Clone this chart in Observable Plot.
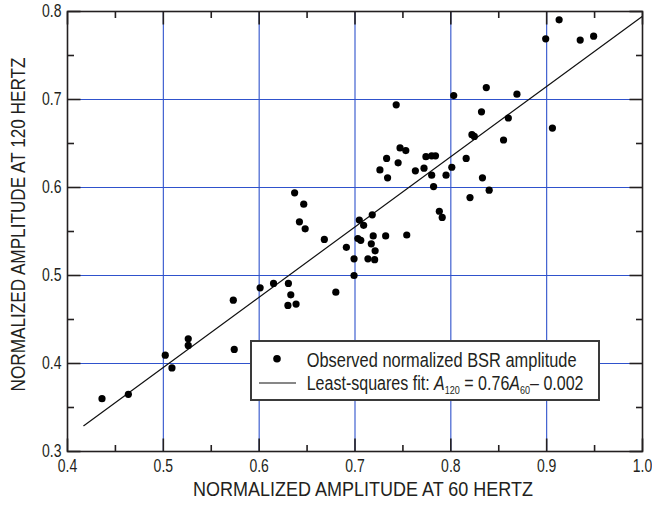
<!DOCTYPE html>
<html>
<head>
<meta charset="utf-8">
<script src="https://cdn.jsdelivr.net/npm/d3@7"></script>
<script src="https://cdn.jsdelivr.net/npm/@observablehq/plot@0.6"></script>
<style>
  html, body { margin: 0; padding: 0; background: #fff; }
  #wrap { position: relative; width: 652px; height: 509px; font-family: "Liberation Sans", Arial, sans-serif; }
  #legendSvg { position: absolute; left: 0; top: 0; pointer-events: none; }
</style>
</head>
<body>
<div id="wrap"></div>
<script>
// Observed normalized BSR amplitudes (60 Hz vs 120 Hz)
const amp60 = [0.436, 0.4635, 0.502, 0.509, 0.526, 0.526, 0.573, 0.574, 0.601, 0.615,
  0.6305, 0.633, 0.630, 0.6385, 0.680, 0.699, 0.699, 0.7135, 0.691, 0.637,
  0.6465, 0.642, 0.648, 0.668, 0.7045, 0.709, 0.718, 0.703, 0.706, 0.717,
  0.721, 0.719, 0.7205, 0.732, 0.754, 0.726, 0.733, 0.734, 0.745, 0.747,
  0.753, 0.763, 0.772, 0.774, 0.780, 0.784, 0.780, 0.782, 0.795, 0.788,
  0.791, 0.801, 0.803, 0.837, 0.869, 0.832, 0.860, 0.822, 0.8245, 0.855,
  0.906, 0.816, 0.833, 0.840, 0.820, 0.899, 0.913, 0.935, 0.949, 0.743];
const amp120 = [0.360, 0.365, 0.4095, 0.395, 0.428, 0.4205, 0.472, 0.416, 0.486, 0.491,
  0.491, 0.478, 0.466, 0.4675, 0.481, 0.500, 0.519, 0.519, 0.532, 0.594,
  0.581, 0.561, 0.553, 0.541, 0.563, 0.557, 0.569, 0.542, 0.540, 0.536,
  0.528, 0.545, 0.518, 0.545, 0.546, 0.620, 0.633, 0.611, 0.628, 0.645,
  0.642, 0.619, 0.622, 0.635, 0.636, 0.636, 0.614, 0.601, 0.614, 0.573,
  0.566, 0.623, 0.7045, 0.7135, 0.706, 0.686, 0.679, 0.660, 0.658, 0.654,
  0.6675, 0.633, 0.611, 0.597, 0.5885, 0.769, 0.7905, 0.7675, 0.772, 0.694];

// Least-squares line as drawn in the figure
const fitSlope = [0.798];
const fitIntercept = [-0.0034];
const fitRange = [0.417, 1.0];

// Axes
const xDomain = [0.4, 1.0];
const yDomain = [0.3, 0.8];
const xMajor = [0.4, 0.5, 0.6, 0.7, 0.8, 0.9, 1.0];
const xMinor = [0.45, 0.55, 0.65, 0.75, 0.85, 0.95];
const yMajor = [0.3, 0.4, 0.5, 0.6, 0.7, 0.8];
const yMinor = [0.35, 0.45, 0.55, 0.65, 0.75];
const xGrid = [0.5, 0.6, 0.7, 0.8, 0.9];
const yGrid = [0.4, 0.5, 0.6, 0.7];
const xTitle = "NORMALIZED AMPLITUDE AT 60 HERTZ";
const yTitle = "NORMALIZED AMPLITUDE AT 120 HERTZ";
const legendLabels = ["Observed normalized BSR amplitude", "Least-squares fit: "];

const points = amp60.map((x, i) => ({x, y: amp120[i]}));
const fitLine = fitRange.map(x => ({x, y: fitSlope[0] * x + fitIntercept[0]}));

const W = 652, H = 509, mL = 67, mR = 10, mT = 11, mB = 58;
const iW = W - mL - mR, iH = H - mT - mB;
const majorLen = 13, minorLen = 6.5;
const gridColor = "#2f52cc";
const ink = "#231f20";
const font = '"Liberation Sans", Arial, sans-serif';

// inward tick segments on all four sides; pixel lengths become data units through the domain spans
const kx = (xDomain[1] - xDomain[0]) / iW, ky = (yDomain[1] - yDomain[0]) / iH;
const xTickSegs = [];
[[xMajor, majorLen], [xMinor, minorLen]].forEach(([vals, len]) => vals.forEach(v => {
  xTickSegs.push({x: v, ya: yDomain[0], yb: yDomain[0] + len * ky});
  xTickSegs.push({x: v, ya: yDomain[1], yb: yDomain[1] - len * ky});
}));
const yTickSegs = [];
[[yMajor, majorLen], [yMinor, minorLen]].forEach(([vals, len]) => vals.forEach(v => {
  yTickSegs.push({y: v, xa: xDomain[0], xb: xDomain[0] + len * kx});
  yTickSegs.push({y: v, xa: xDomain[1], xb: xDomain[1] - len * kx});
}));

const chart = Plot.plot({
  width: W, height: H,
  marginLeft: mL, marginRight: mR, marginTop: mT, marginBottom: mB,
  style: {fontFamily: font, background: "#fff", color: ink, overflow: "visible"},
  x: {domain: xDomain},
  y: {domain: yDomain},
  marks: [
    Plot.gridX(xGrid, {stroke: gridColor, strokeOpacity: 1, strokeWidth: 1.1}),
    Plot.gridY(yGrid, {stroke: gridColor, strokeOpacity: 1, strokeWidth: 1.1}),
    Plot.link(xTickSegs, {x1: "x", x2: "x", y1: "ya", y2: "yb", stroke: ink, strokeWidth: 1.6}),
    Plot.link(yTickSegs, {y1: "y", y2: "y", x1: "xa", x2: "xb", stroke: ink, strokeWidth: 1.6}),
    Plot.line(fitLine, {x: "x", y: "y", stroke: "#111", strokeWidth: 1.2}),
    Plot.dot(points, {x: "x", y: "y", r: 3.6, fill: "#000", stroke: "none"}),
    Plot.frame({stroke: ink, strokeWidth: 1.6}),
    Plot.axisX(xMajor, {tickSize: 0, tickPadding: 8, tickFormat: d3.format(".1f"), fontSize: 17.5, label: null, fill: ink}),
    Plot.axisY(yMajor, {tickSize: 0, tickPadding: 6, tickFormat: d3.format(".1f"), fontSize: 17.5, label: null, fill: ink}),
    Plot.text([xTitle], {text: d => d, frameAnchor: "bottom", dy: 44, dx: 8, fontSize: 21, fill: ink, textAnchor: "middle"}),
    Plot.text([yTitle], {text: d => d, frameAnchor: "left", dx: -49, dy: -7, rotate: -90, fontSize: 21, fill: ink, textAnchor: "middle"})
  ]
});

const wrap = document.getElementById("wrap");
wrap.appendChild(chart);

// condense text to mimic the narrow typeface of the original
function squeeze(el, target) {
  el.setAttribute("lengthAdjust", "spacingAndGlyphs");
  el.setAttribute("textLength", target);
}
chart.querySelectorAll('g[aria-label="x-axis tick label"] text, g[aria-label="y-axis tick label"] text')
  .forEach(t => squeeze(t, t.getComputedTextLength() * 0.8));
chart.querySelectorAll('g[aria-label="text"] text').forEach(t => {
  if (t.textContent === xTitle) squeeze(t, 340);
  if (t.textContent === yTitle) squeeze(t, 334);
});

// legend overlay
const lg = d3.select(wrap).append("svg").attr("id", "legendSvg").attr("width", W).attr("height", H)
  .attr("font-family", font).attr("fill", ink);
lg.append("rect").attr("x", 251).attr("y", 341).attr("width", 348).attr("height", 59)
  .attr("fill", "#fff").attr("stroke", "#3a3a3a").attr("stroke-width", 2);
lg.append("circle").attr("cx", 277).attr("cy", 358.7).attr("r", 3.8).attr("fill", "#000");
lg.append("line").attr("x1", 259).attr("x2", 296).attr("y1", 383).attr("y2", 383)
  .attr("stroke", "#111").attr("stroke-width", 1.2);

function scaledText(x, y, target, build) {
  const g = lg.append("g");
  const t = g.append("text").attr("font-size", 19.5);
  build(t);
  const w = t.node().getBBox().width;
  g.attr("transform", `translate(${x},${y}) scale(${target / w},1)`);
}
scaledText(306.7, 367.3, 270, t => t.text(legendLabels[0]));
scaledText(306.7, 390, 277, t => {
  t.append("tspan").text(legendLabels[1]);
  t.append("tspan").attr("font-style", "italic").text("A");
  t.append("tspan").attr("font-size", 11).attr("dy", 4).text("120");
  t.append("tspan").attr("dy", -4).text(" = 0.76");
  t.append("tspan").attr("font-style", "italic").text("A");
  t.append("tspan").attr("font-size", 11).attr("dy", 4).text("60");
  t.append("tspan").attr("dy", -4).text("– 0.002");
});
</script>
</body>
</html>
